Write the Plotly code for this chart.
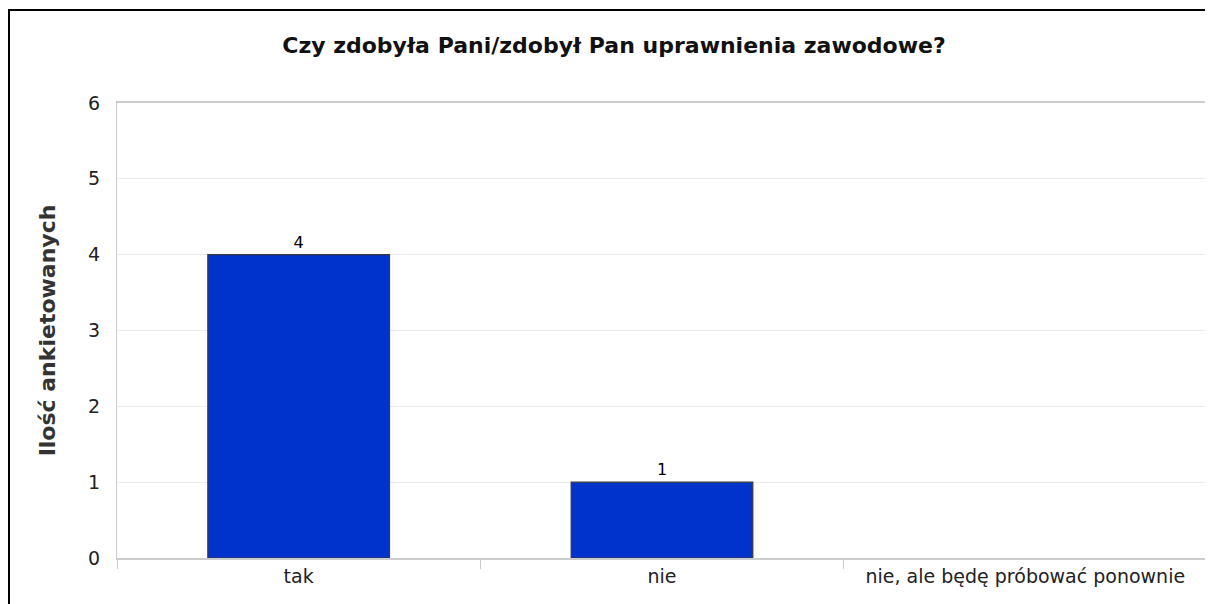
import plotly.graph_objects as go

categories = ["tak", "nie", "nie, ale będę próbować ponownie"]
values = [4, 1, 0]
labels = [str(v) if v else "" for v in values]
y_ticks = [0, 1, 2, 3, 4, 5, 6]

# page has an 8px body margin, so the figure starts at page (8, 8)
W, H = 1205, 596
L, R, T, B = 109, 6, 95, 46
pw, ph = W - L - R, H - T - B

fig = go.Figure(go.Bar(
    x=categories, y=values, text=labels, textposition="outside",
    textfont=dict(family="DejaVu Sans", size=16, color="#000"),
    marker=dict(color="#0033CC",
                line=dict(color="#3a3a3a", width=[1.2 if v else 0 for v in values])),
    width=0.5, cliponaxis=False,
))

fig.update_layout(
    width=W, height=H, margin=dict(l=L, r=R, t=T, b=B),
    paper_bgcolor="white", plot_bgcolor="white", showlegend=False,
    font=dict(family="DejaVu Sans", size=19, color="#222"),
    title=dict(text="<b>Czy zdobyła Pani/zdobył Pan uprawnienia zawodowe?</b>",
               x=(614 - 8) / W, xanchor="center", y=1 - 37 / H, yanchor="middle",
               font=dict(family="DejaVu Sans", size=22, color="#111")),
    xaxis=dict(showline=True, linecolor="#cccccc", linewidth=2, mirror=True,
               ticks="outside", tickson="boundaries", ticklen=9, tickcolor="#cccccc",
               tickwidth=1, showgrid=False, tickfont=dict(size=19, color="#222")),
    yaxis=dict(range=[0, 6], tickvals=y_ticks, showline=True, linecolor="#cccccc",
               linewidth=1, mirror=True, gridcolor="#ebebeb", gridwidth=1,
               zeroline=False, ticks="", ticklabelstandoff=12,
               tickfont=dict(size=19, color="#222"),
               title=dict(text="<b>Ilość ankietowanych</b>", standoff=26,
                          font=dict(family="DejaVu Sans", size=22, color="#333"))),
    bargap=0.5,
)

# outer black frame
fig.add_shape(type="rect", xref="paper", yref="paper",
              x0=(1 - L) / pw, x1=(1220 - L) / pw,
              y0=(H - B - 615) / ph, y1=(H - B - 2) / ph,
              line=dict(color="black", width=2), fillcolor="rgba(0,0,0,0)", layer="above")

fig.write_html("out.html")
